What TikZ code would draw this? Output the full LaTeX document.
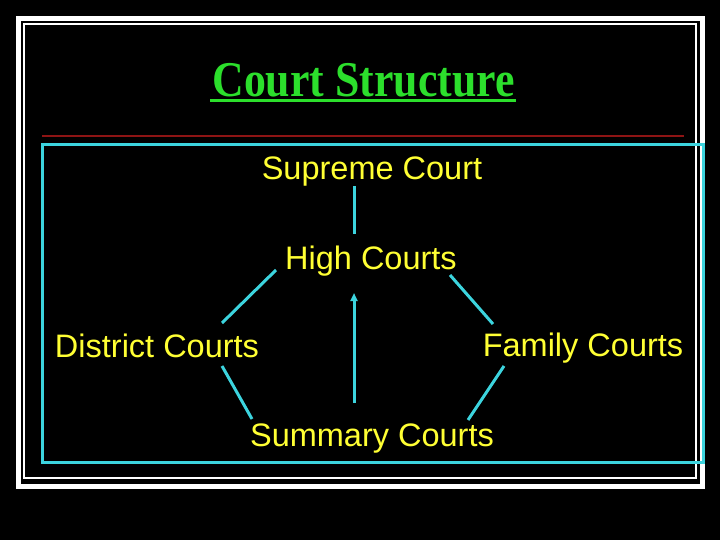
\documentclass[tikz,border=0pt]{standalone}
\usepackage{fontspec}
\setmainfont{Liberation Serif}
\setsansfont{Liberation Sans}
\usetikzlibrary{arrows.meta,calc}
\definecolor{courtcyan}{HTML}{3CD4DE}
\definecolor{courtyellow}{HTML}{FFFF33}
\definecolor{titlegreen}{HTML}{2CDF2C}
\definecolor{rulered}{HTML}{8E1414}

\begin{document}
\begin{tikzpicture}[x=1pt,y=-1pt,
  court/.style={anchor=base,inner sep=0pt,text=courtyellow,font=\fontsize{32.5}{38}\selectfont\sffamily},
  heading/.style={anchor=base,inner sep=0pt,text=titlegreen,font=\fontsize{50}{56}\selectfont\bfseries},
  link/.style={color=courtcyan,line width=3pt},
  arr/.style={link,-{Triangle[length=8pt,width=7pt]}}]
  \fill[black] (0,0) rectangle (720,540);
  \draw[white,line width=5pt] (18.5,18.5) rectangle (702.5,486.5);
  \draw[white,line width=1.3pt] (24,24) rectangle (696,478);
  % title
  \node[heading] (title) at (363.5,97) {\scalebox{0.876}[1]{Court Structure}};
  \draw[titlegreen,line width=3pt] ($(title.base west)+(-2,4)$) -- ($(title.base east)+(1,4)$);
  \draw[rulered,line width=2pt] (42,136) -- (684,136);
  \draw[link] (42,144.5) rectangle (703,462);
  % courts
  \node[court] (sup) at (372,180) {Supreme Court};
  \node[court] (high) at (371,269) {High Courts};
  \node[court] (dist) at (157,357) {District Courts};
  \node[court] (fam) at (583,356) {Family Courts};
  \node[court] (summ) at (372,446) {Summary Courts};
  \draw[link] ($(sup.base)+(-18,6)$) -- ($(high.base)+(-17,-35)$);
  \draw[link] ($(high.base)+(-95,1)$) -- ($(dist.base)+(65,-34)$);
  \draw[link] ($(high.base)+(79,6)$) -- ($(fam.base)+(-90,-32)$);
  \draw[link] ($(dist.base)+(65,9)$) -- ($(summ.base)+(-120,-27)$);
  \draw[link] ($(fam.base)+(-79,10)$) -- ($(summ.base)+(96,-26)$);
  \draw[arr] ($(summ.base)+(-18,-43)$) -- ($(high.base)+(-17,24)$);
\end{tikzpicture}
\end{document}
